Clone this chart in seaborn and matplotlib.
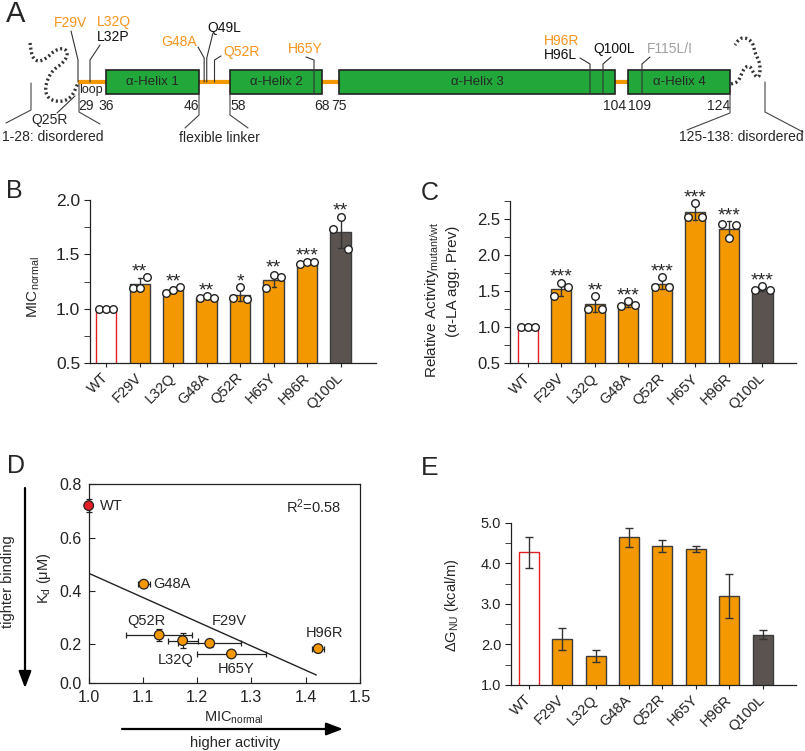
import numpy as np
import pandas as pd
import matplotlib
matplotlib.use('Agg')
import matplotlib.pyplot as plt
import seaborn as sns
from matplotlib.patches import Rectangle
from matplotlib.ticker import MultipleLocator
from matplotlib.transforms import ScaledTranslation

# ---------------- data ----------------
variants = ['WT', 'F29V', 'L32Q', 'G48A', 'Q52R', 'H65Y', 'H96R', 'Q100L']

# B: MIC_normal, three replicates per variant
mic_reps = [
    [1.00, 1.00, 1.00],
    [1.19, 1.19, 1.29],
    [1.145, 1.175, 1.20],
    [1.095, 1.115, 1.095],
    [1.10, 1.20, 1.09],
    [1.19, 1.31, 1.29],
    [1.41, 1.43, 1.43],
    [1.73, 1.84, 1.55],
]
mic_stars = ['', '**', '**', '**', '*', '**', '***', '**']

# C: relative activity (alpha-LA aggregation prevention)
act_reps = [
    [1.00, 1.00, 1.00],
    [1.43, 1.62, 1.56],
    [1.26, 1.44, 1.26],
    [1.29, 1.36, 1.31],
    [1.56, 1.70, 1.56],
    [2.54, 2.73, 2.54],
    [2.44, 2.24, 2.42],
    [1.52, 1.57, 1.52],
]
act_stars = ['', '***', '**', '***', '***', '***', '***', '***']

# D: Kd against MIC_normal
kd_variants = ['WT', 'F29V', 'L32Q', 'G48A', 'Q52R', 'H65Y', 'H96R']
kd_vals = [0.72, 0.203, 0.213, 0.425, 0.234, 0.163, 0.183]
kd_errs = [0.025, 0.012, 0.028, 0.010, 0.023, 0.010, 0.012]
fit_x = [1.0, 1.42]
fit_y = [0.466, 0.084]
r_squared = 0.58

# E: stability
dg_vals = [4.27, 2.13, 1.71, 4.64, 4.42, 4.35, 3.20, 2.24]
dg_errs = [0.38, 0.27, 0.15, 0.23, 0.15, 0.08, 0.54, 0.11]

# A: domain map
helix_names = ['α-Helix 1', 'α-Helix 2', 'α-Helix 3', 'α-Helix 4']
helix_start = [36, 58, 75, 109]
helix_end = [46, 68, 104, 124]
boundary_labels = [29, 36, 46, 58, 68, 75, 104, 109, 124]
mut_residues = [29, 32, 48, 49, 52, 65, 96, 100, 115]
mut_labels = [['F29V'], ['L32Q', 'L32P'], ['G48A'], ['Q49L'], ['Q52R'], ['H65Y'],
              ['H96R', 'H96L'], ['Q100L'], ['F115L/I']]
mut_kinds = [['sel'], ['sel', 'other'], ['sel'], ['other'], ['sel'], ['sel'],
             ['sel', 'other'], ['other'], ['faint']]

# ---------------- style ----------------
sns.set_style('ticks')
plt.rcParams.update({
    'font.family': ['Liberation Sans', 'DejaVu Sans'],
    'font.size': 10,
    'mathtext.fontset': 'custom',
    'mathtext.rm': 'Liberation Sans',
    'mathtext.it': 'Liberation Sans:italic',
    'mathtext.bf': 'Liberation Sans:bold',
    'axes.linewidth': 0.9,
    'axes.edgecolor': '#222222',
    'xtick.color': '#222222',
    'ytick.color': '#222222',
    'xtick.labelsize': 10.5,
    'ytick.labelsize': 12,
})

orange = '#F39800'
orange_txt = '#F7941D'
dark = '#5A5350'
red = '#E31E24'
green = '#22A83A'
line_col = '#333333'
kind_col = {'sel': orange_txt, 'other': '#111111', 'faint': '#A0A0A0'}
bar_pal = {v: orange for v in variants}
bar_pal['WT'] = 'white'
bar_pal['Q100L'] = dark

fig = plt.figure(figsize=(8.05, 7.51), dpi=100)

# overlay in pixel coordinates for the schematic and free text
ov = fig.add_axes([0, 0, 1, 1])
ov.set_xlim(0, 805)
ov.set_ylim(751, 0)
ov.axis('off')


def px_axes(l, t, r, b):
    return fig.add_axes([l / 805, 1 - b / 751, (r - l) / 805, (b - t) / 751])


ax_b = px_axes(90, 200, 376, 363)
ax_c = px_axes(510, 200.7, 796, 363.3)
ax_d = px_axes(88.7, 484.3, 359.7, 683)
ax_e = px_axes(511, 522.7, 796, 685)

# ---------------- panel A ----------------
res_anchor = [29, 36, 46, 58, 65, 68, 75, 96, 100, 104, 109, 115, 124]
px_anchor = [78, 106, 199, 230, 314, 322, 339, 590, 603, 615, 628, 642, 730]


def rx(r):
    return float(np.interp(r, res_anchor, px_anchor))


def chaikin(pts, n=3):
    p = np.asarray(pts, float)
    for _ in range(n):
        q = 0.75 * p[:-1] + 0.25 * p[1:]
        r = 0.25 * p[:-1] + 0.75 * p[1:]
        p = np.vstack([p[0], np.column_stack([q, r]).reshape(-1, 2), p[-1]])
    return p


y_top, y_bot, y_mid = 70, 94, 82
ov.plot([rx(29), rx(124)], [y_mid, y_mid], color=orange, lw=3, zorder=1,
        solid_capstyle='butt')
for name, s, e in zip(helix_names, helix_start, helix_end):
    ov.add_patch(Rectangle((rx(s), y_top), rx(e) - rx(s), y_bot - y_top,
                           fc=green, ec='#222222', lw=1.2, zorder=2))
    ov.text((rx(s) + rx(e)) / 2, y_mid, name, ha='center', va='center',
            fontsize=9.5, zorder=3)

num_ha = ['left', 'center', 'right', 'left', 'center', 'center', 'center', 'left', 'right']
for r, ha in zip(boundary_labels, num_ha):
    ov.text(rx(r), 106, str(r), ha=ha, va='center', fontsize=10)
ov.text(rx(29) + 1, 90, 'loop', ha='left', va='center', fontsize=9)

# callout geometry: elbow y, end of slanted leg, and text placement
callout_geo = {
    29: (60, 71, 31, [(70, 23, 'center')]),
    32: (60, 100, 45, [(97, 22, 'left'), (97, 37, 'left')]),
    48: (58, 198, 47, [(197, 42, 'right')]),
    49: (58, 213, 33, [(207, 28, 'left')]),
    52: (60, 221, 56, [(223, 52, 'left')]),
    65: (60, 306, 57, [(305, 49, 'center')]),
    96: (64, 580, 58, [(544, 41, 'left'), (544, 55, 'left')]),
    100: (64, 611, 57, [(593, 49, 'left')]),
    115: (64, 650, 57, [(647, 49, 'left')]),
}
for r, labs, kinds in zip(mut_residues, mut_labels, mut_kinds):
    ey, ex2, ey2, tpos = callout_geo[r]
    in_helix = any(s <= r <= e for s, e in zip(helix_start, helix_end))
    y0 = y_bot if in_helix else y_mid
    x0 = rx(r)
    ov.plot([x0, x0, ex2], [y0, ey, ey2], color=line_col, lw=0.8, zorder=4)
    for lab, kind, (tx, ty, ha) in zip(labs, kinds, tpos):
        ov.text(tx, ty, lab, color=kind_col[kind], ha=ha, va='center', fontsize=10)

# Q25R on the N-terminal coil
ov.plot([57, 75], [113, 96], color=line_col, lw=0.8)
ov.text(50, 120, 'Q25R', ha='center', va='center', fontsize=10)

# disordered termini (dotted coils)
coil_n = [(30, 43), (32, 57), (38, 62), (47, 58), (55, 50), (65, 48), (68, 55),
          (63, 63), (53, 70), (47, 80), (45, 92), (50, 100), (62, 102), (72, 97), (78, 83)]
coil_c = [(731, 84), (738, 82), (742, 73), (745, 67), (750, 66), (753, 72), (757, 78),
          (760, 75), (760, 63), (755, 53), (753, 43), (747, 38), (740, 38), (735, 45)]
for pts in (coil_n, coil_c):
    p = chaikin(pts)
    ov.plot(p[:, 0], p[:, 1], color=line_col, lw=2.4, linestyle=(0, (0.6, 0.8)))

# brackets
bracket_col = '#444444'
for xs, ys in [([6, 31, 31], [123, 110, 83]), ([79, 79, 100], [84, 112, 124]),
               ([185, 199, 199], [128, 115, 94]), ([230, 230, 248], [94, 115, 128]),
               ([687, 730, 730], [130, 113, 94]), ([765, 765, 803], [82, 112, 132])]:
    ov.plot(xs, ys, color=bracket_col, lw=0.8)
ov.text(53, 137, '1-28: disordered', ha='center', va='center', fontsize=10)
ov.text(219, 138, 'flexible linker', ha='center', va='center', fontsize=10)
ov.text(741, 137, '125-138: disordered', ha='center', va='center', fontsize=10)

# ---------------- panels B, C ----------------
offsets = np.array([-0.21, 0.0, 0.21])


def style_bar_axes(ax, xlim, ytick_size):
    sns.despine(ax=ax)
    ax.set_xlim(*xlim)
    ax.set_xlabel('')
    ax.set_ylabel('')
    ax.set_xticks(range(len(variants)))
    ax.set_xticklabels(variants, rotation=45, ha='right', va='center',
                       rotation_mode='anchor')
    for lab in ax.get_xticklabels():
        lab.set_transform(lab.get_transform() + ScaledTranslation(4 / 72, 0, fig.dpi_scale_trans))
    ax.tick_params(axis='x', length=3, pad=6)
    ax.tick_params(axis='y', which='major', length=4, pad=3, labelsize=ytick_size)
    ax.tick_params(axis='y', which='minor', length=4)
    for p, v in zip(ax.patches, variants):
        p.set_edgecolor(red if v == 'WT' else '#3c3c3c')
        p.set_linewidth(1.0)


def rep_bar_panel(ax, reps, stars, ylim, major, minor, xlim, ytick_size):
    df = pd.DataFrame({'variant': np.repeat(variants, 3),
                       'value': np.concatenate(reps)})
    sns.barplot(data=df, x='variant', y='value', hue='variant', order=variants,
                hue_order=variants, palette=bar_pal, saturation=1, errorbar='sd',
                capsize=0.12, width=0.6, err_kws={'color': line_col, 'linewidth': 1.0},
                legend=False, ax=ax)
    xs = np.concatenate([i + offsets for i in range(len(variants))])
    sns.scatterplot(x=xs, y=np.concatenate(reps), s=30, color='white',
                    edgecolor='#222222', linewidth=1.0, zorder=5, ax=ax, clip_on=False)
    for i, s in enumerate(stars):
        if s:
            r = np.array(reps[i])
            top = max(r.max(), r.mean() + r.std(ddof=1))
            ax.annotate(s, (i, top), xytext=(0, -2.5), textcoords='offset points',
                        ha='center', va='bottom', fontsize=14)
    ax.set_ylim(*ylim)
    ax.yaxis.set_major_locator(MultipleLocator(major))
    ax.yaxis.set_minor_locator(MultipleLocator(minor))
    ax.yaxis.set_major_formatter('{x:.1f}')
    style_bar_axes(ax, xlim, ytick_size)


rep_bar_panel(ax_b, mic_reps, mic_stars, (0.5, 2.0), 0.5, 0.25, (-0.48, 8.06), 12.5)
rep_bar_panel(ax_c, act_reps, act_stars, (0.5, 2.76), 0.5, 0.25, (-0.53, 8.0), 12)

# ---------------- panel E ----------------
sns.barplot(x=variants, y=dg_vals, hue=variants, palette=bar_pal, saturation=1,
            width=0.6, errorbar=None, legend=False, ax=ax_e)
ax_e.errorbar(range(len(variants)), dg_vals, yerr=dg_errs, fmt='none',
              ecolor=line_col, elinewidth=1.0, capsize=3, capthick=1.0, zorder=4)
ax_e.set_ylim(1.0, 5.0)
ax_e.yaxis.set_major_locator(MultipleLocator(1.0))
ax_e.yaxis.set_minor_locator(MultipleLocator(0.5))
ax_e.yaxis.set_major_formatter('{x:.1f}')
style_bar_axes(ax_e, (-0.53, 8.0), 10.5)

# ---------------- panel D ----------------
mic_mean = [float(np.mean(mic_reps[variants.index(v)])) for v in kd_variants]
mic_sd = [float(np.std(mic_reps[variants.index(v)], ddof=1)) for v in kd_variants]
ax_d.errorbar(mic_mean, kd_vals, xerr=mic_sd, yerr=kd_errs, fmt='none',
              ecolor='#222222', elinewidth=0.9, capsize=2, capthick=0.9, zorder=3,
              clip_on=False)
sns.lineplot(x=fit_x, y=fit_y, color='#222222', lw=1.0, ax=ax_d)
sns.scatterplot(x=mic_mean, y=kd_vals, hue=kd_variants,
                palette={v: (red if v == 'WT' else orange) for v in kd_variants},
                s=48, edgecolor='#222222', linewidth=0.9, legend=False, zorder=5,
                clip_on=False, ax=ax_d)
label_off = {'WT': (8, 0, 'left'), 'G48A': (7, 0, 'left'), 'Q52R': (-9.5, 10, 'center'),
             'F29V': (14, 16, 'center'), 'L32Q': (-5, -14, 'center'),
             'H65Y': (3, -11, 'center'), 'H96R': (4.5, 11.3, 'center')}
for v, x, y in zip(kd_variants, mic_mean, kd_vals):
    dx, dy, ha = label_off[v]
    ax_d.annotate(v, (x, y), xytext=(dx, dy), textcoords='offset points',
                  ha=ha, va='center', fontsize=10.5)
ax_d.text(0.931, 0.886, r'R$^2$=' + f'{r_squared:.2f}', transform=ax_d.transAxes,
          ha='right', va='center', fontsize=10.5)
ax_d.set_xlim(1.0, 1.5)
ax_d.set_ylim(0.054, 0.8)
ax_d.set_xticks([1.0, 1.1, 1.2, 1.3, 1.4, 1.5])
ax_d.set_yticks([0.054, 0.2, 0.4, 0.6, 0.8], labels=['0.0', '0.2', '0.4', '0.6', '0.8'])
ax_d.xaxis.set_major_formatter('{x:.1f}')
ax_d.tick_params(direction='in', length=4, pad=5, labelsize=11.5)
for s in ax_d.spines.values():
    s.set_visible(True)
    s.set_linewidth(0.9)

# ---------------- axis labels and free text ----------------
ov.text(34, 287, r'MIC$_{\rm normal}$', rotation=90, ha='center', va='center', fontsize=11)
ov.text(432, 300, r'Relative Activity$_{\rm mutant/wt}$', rotation=90, ha='center',
        va='center', fontsize=11)
ov.text(453, 281, '(α-LA agg. Prev)', rotation=90, ha='center', va='center', fontsize=11)
ov.text(452, 605, r'ΔG$_{\rm NU}$ (kcal/m)', rotation=90, ha='center', va='center',
        fontsize=10.5)
ov.text(44, 578, r'K$_{\rm d}$ (μM)', rotation=90, ha='center', va='center', fontsize=10.5)
ov.text(234, 718, r'MIC$_{\rm normal}$', ha='center', va='center', fontsize=10.5)
ov.text(235, 743, 'higher activity', ha='center', va='center', fontsize=10.5)
ov.text(8, 582, 'tighter binding', rotation=90, ha='center', va='center', fontsize=10.5)
arrow = dict(arrowstyle='-|>,head_length=1.0,head_width=0.38', color='black', lw=1.6,
             shrinkA=0, shrinkB=0)
ov.annotate('', xy=(343, 729), xytext=(122, 729), arrowprops=arrow)
ov.annotate('', xy=(25, 688), xytext=(25, 488), arrowprops=arrow)

for letter, x, y, fs in [('A', 6, 22, 21), ('B', 6, 198, 18), ('C', 421, 200, 18),
                         ('D', 7, 473, 18), ('E', 421, 475, 19)]:
    ov.text(x, y, letter, ha='left', va='baseline', fontsize=fs)

fig.savefig('out.png', dpi=100)
